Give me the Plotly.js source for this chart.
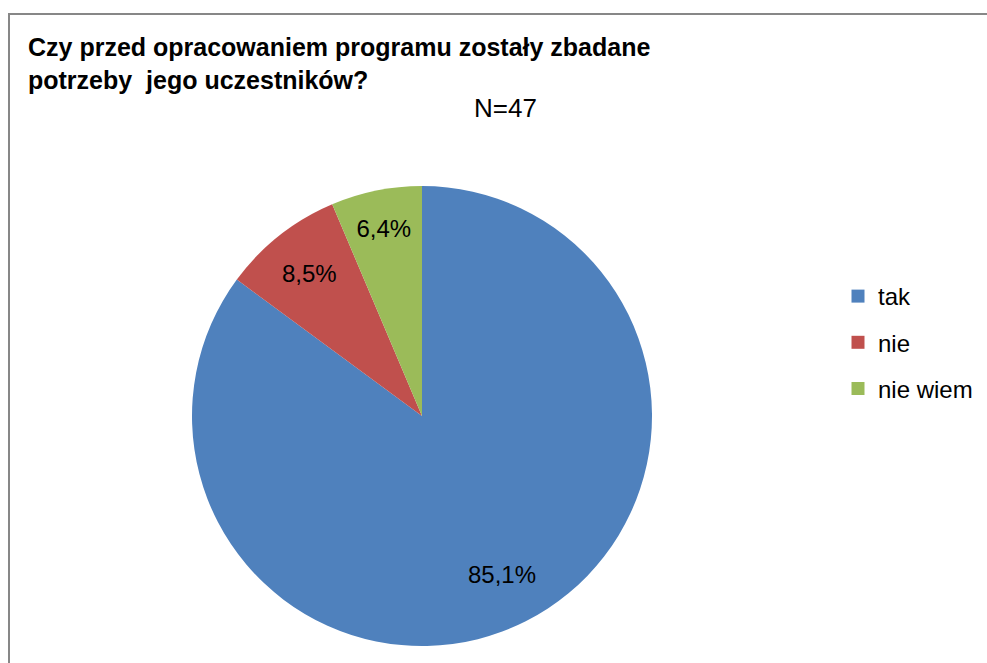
<!DOCTYPE html>
<html>
<head>
<meta charset="utf-8">
<script src="https://cdn.plot.ly/plotly-3.0.1.min.js"></script>
<style>html,body{margin:0;padding:0;background:#fff;}#chart{width:987px;height:663px;}</style>
</head>
<body>
<div id="chart"></div>
<script>
const categories = ["tak", "nie", "nie wiem"];
const counts = [40, 4, 3];
const colors = ["#4F81BD", "#C0504D", "#9BBB59"];
const titleText = "<b>Czy przed opracowaniem programu zostały zbadane<br>potrzeby  jego uczestników?</b>";
const noteText = "N=47";

const W = 987, H = 663;
const cx = 422, cy = 416, R = 230;
const FONT = "Liberation Sans, Arial, sans-serif";

const total = counts.reduce((a, b) => a + b, 0);
const fmtPct = v => (v / total * 100).toFixed(1).replace(".", ",") + "%";

// the biggest slice gets its label placed like the original (further out along the slice's middle)
const bigMid = (counts[0] / 2) / total * 2 * Math.PI;
const bigLabel = {
  text: fmtPct(counts[0]), xref: "paper", yref: "paper",
  x: (cx + 0.77 * R * Math.sin(bigMid)) / W,
  y: (H - (cy - 0.77 * R * Math.cos(bigMid))) / H,
  xanchor: "center", yanchor: "middle", showarrow: false,
  font: {family: FONT, size: 24, color: "#000000"}
};

const pie = {
  type: "pie",
  labels: categories,
  values: counts,
  marker: {colors: colors, line: {width: 0}},
  sort: false,
  direction: "clockwise",
  rotation: 0,
  texttemplate: ["", "%{percent:.1%}", "%{percent:.1%}"],
  textposition: "inside",
  insidetextorientation: "horizontal",
  textfont: {family: FONT, size: 24, color: "#000000"},
  hoverinfo: "label+value+percent",
  showlegend: false,
  domain: {x: [(cx - R) / W, (cx + R) / W], y: [(H - cy - R) / H, (H - cy + R) / H]}
};

const legendTraces = categories.map((c, i) => ({
  type: "scatter",
  mode: "markers",
  x: [null], y: [null],
  name: c,
  legendgroup: "g" + i,
  marker: {symbol: "square", size: 13, color: colors[i]},
  showlegend: true,
  hoverinfo: "skip"
}));

const layout = {
  width: W, height: H,
  margin: {l: 0, r: 0, t: 0, b: 0},
  paper_bgcolor: "#ffffff",
  plot_bgcolor: "#ffffff",
  separators: ", ",
  font: {family: FONT, color: "#000000"},
  title: {
    text: titleText,
    x: 28 / W, xanchor: "left", xref: "paper",
    y: 1 - 56 / H, yanchor: "top", yref: "paper",
    font: {family: FONT, size: 25, color: "#000000"}
  },
  xaxis: {visible: false, domain: [0.9, 1]},
  yaxis: {visible: false, domain: [0.9, 1]},
  showlegend: true,
  legend: {
    x: 838 / W, xanchor: "left",
    y: 1 - 274 / H, yanchor: "top",
    font: {family: FONT, size: 24, color: "#000000"},
    tracegroupgap: 12,
    bgcolor: "rgba(0,0,0,0)",
    borderwidth: 0
  },
  annotations: [{
    text: noteText, xref: "paper", yref: "paper",
    x: 505 / W, y: 1 - 108 / H, xanchor: "center", yanchor: "middle",
    showarrow: false, font: {family: FONT, size: 26, color: "#000000"}
  }, bigLabel],
  shapes: [
    {type: "line", xref: "paper", yref: "paper", x0: 8 / W, x1: 1, y0: 1 - 14 / H, y1: 1 - 14 / H, line: {color: "#878787", width: 2}},
    {type: "line", xref: "paper", yref: "paper", x0: 9 / W, x1: 9 / W, y0: 1 - 14 / H, y1: 0, line: {color: "#878787", width: 2}}
  ]
};

Plotly.newPlot("chart", [pie].concat(legendTraces), layout, {displayModeBar: false, staticPlot: true});
</script>
</body>
</html>
